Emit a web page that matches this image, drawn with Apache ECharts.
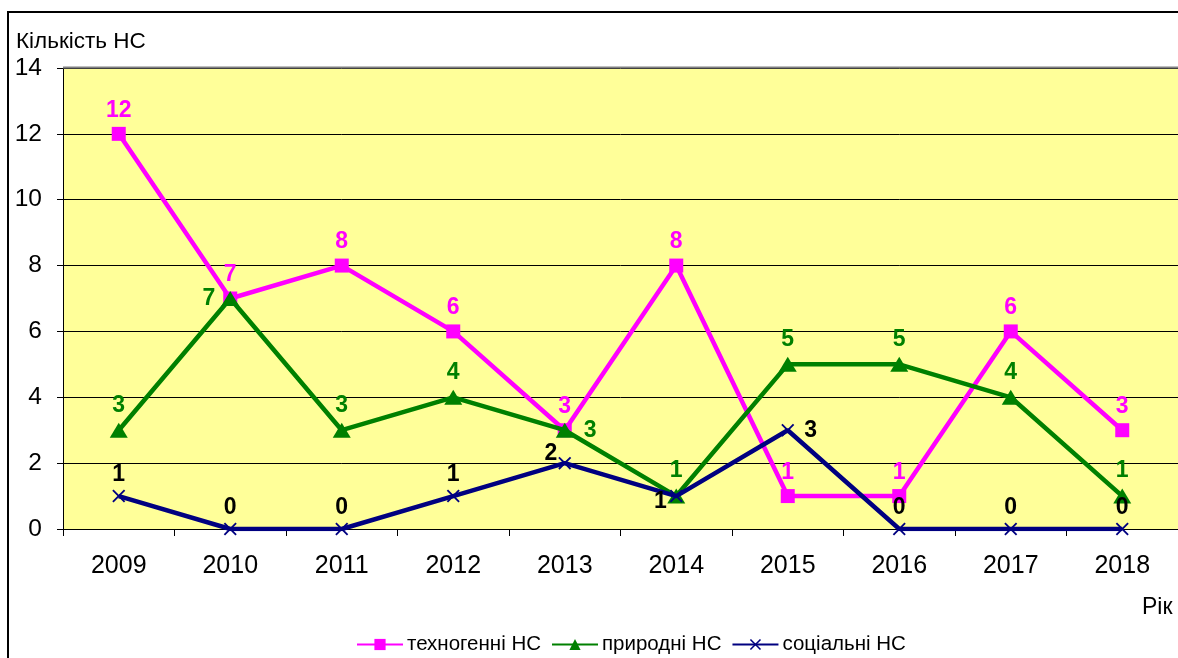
<!DOCTYPE html>
<html>
<head>
<meta charset="utf-8">
<script src="https://cdn.jsdelivr.net/npm/echarts@6/dist/echarts.min.js"></script>
<style>
html, body { margin: 0; padding: 0; background: #fff; }
#chartView { width: 1178px; height: 658px; }
</style>
</head>
<body>
<div id="chartView"></div>
<script>
var years = ['2009', '2010', '2011', '2012', '2013', '2014', '2015', '2016', '2017', '2018'];
var techno = [12, 7, 8, 6, 3, 8, 1, 1, 6, 3];
var natural = [3, 7, 3, 4, 3, 1, 5, 5, 4, 1];
var social = [1, 0, 0, 1, 2, 1, 3, 0, 0, 0];
var seriesNames = ['техногенні НС', 'природні НС', 'соціальні НС'];

// куди ставити підписи, якщо не зверху
var naturalLabelPos = { 1: 'left', 4: 'right' };
var socialLabelPos = { 4: 'topLeft', 5: 'bottomLeft', 6: 'right' };

var xPath = 'path://M0,1 L1,0 L5,4 L9,0 L10,1 L6,5 L10,9 L9,10 L5,6 L1,10 L0,9 L4,5 Z';
var font = '"Liberation Sans", Arial, sans-serif';

function withLabels(values, posMap) {
	return values.map(function (v, i) {
		var item = { value: v };
		var p = posMap[i];
		if (p == 'bottomLeft') {
			item.label = { position: 'left', offset: [0, 6] };
		} else if (p == 'topLeft') {
			item.label = { position: 'left', offset: [2, -9] };
		} else if (p == 'right') {
			item.label = { position: 'right', distance: 10 };
		} else if (p) {
			item.label = { position: p };
		}
		return item;
	});
}

var chartView = echarts.init(document.getElementById('chartView'));
var ops = {
	animation: false,
	textStyle: { fontFamily: font },
	grid: {
		left: 63,
		right: -7,
		top: 68,
		bottom: 129,
		backgroundColor: '#FFFF99',
		show: true,
		borderWidth: 0
	},
	legend: {
		data: seriesNames,
		bottom: -2,
		left: 351,
		itemWidth: 46,
		itemHeight: 14,
		itemGap: 10,
		textStyle: { fontSize: 20.5, color: '#000', fontFamily: font, padding: [0, 0, 0, -1] }
	},
	graphic: [{
		type: 'rect',
		shape: { x: 8, y: 12, width: 1300, height: 800 },
		style: { fill: null, stroke: '#000', lineWidth: 2 },
		z: 100
	}, {
		type: 'text',
		left: 16,
		top: 30,
		style: { text: 'Кількість НС', fontSize: 22.5, fill: '#000', fontFamily: font }
	}, {
		type: 'text',
		left: 1142,
		top: 596,
		style: { text: 'Рік', fontSize: 23, fill: '#000', fontFamily: font }
	}, {
		type: 'line',
		shape: { x1: 63, y1: 67.5, x2: 1178, y2: 67.5 },
		style: { stroke: '#808080', lineWidth: 2 },
		z: 5
	}],
	xAxis: [{
		type: 'category',
		boundaryGap: true,
		data: years,
		axisLine: { lineStyle: { color: '#000', width: 1 } },
		axisTick: { show: true, length: 7, inside: false, lineStyle: { color: '#000' } },
		axisLabel: { fontSize: 25, color: '#000', margin: 25, fontFamily: font },
		splitLine: { show: false }
	}],
	yAxis: [{
		type: 'value',
		min: 0,
		max: 14,
		interval: 2,
		axisLine: { show: true, lineStyle: { color: '#000', width: 1 } },
		axisTick: { show: true, length: 6, lineStyle: { color: '#000' } },
		axisLabel: { fontSize: 24.5, color: '#000', margin: 21, fontFamily: font },
		splitLine: { show: true, lineStyle: { color: '#000', width: 1 } }
	}],
	series: [{
		name: seriesNames[0],
		type: 'line',
		data: withLabels(techno, {}),
		symbol: 'rect',
		symbolSize: 14,
		color: '#FF00FF',
		lineStyle: { width: 4.5, color: '#FF00FF' },
		itemStyle: { color: '#FF00FF' },
		label: { show: true, position: 'top', distance: 5, fontSize: 23, fontWeight: 'bold', color: '#FF00FF', fontFamily: font },
		z: 2
	}, {
		name: seriesNames[1],
		type: 'line',
		data: withLabels(natural, naturalLabelPos),
		symbol: 'triangle',
		symbolSize: [18, 15],
		color: '#008000',
		lineStyle: { width: 4.5, color: '#008000' },
		itemStyle: { color: '#008000' },
		label: { show: true, position: 'top', distance: 6, fontSize: 23, fontWeight: 'bold', color: '#008000', fontFamily: font },
		z: 3
	}, {
		name: seriesNames[2],
		type: 'line',
		data: withLabels(social, socialLabelPos),
		symbol: xPath,
		symbolSize: 13,
		color: '#000080',
		lineStyle: { width: 4.5, color: '#000080' },
		itemStyle: { color: '#000080' },
		label: { show: true, position: 'top', distance: 3, fontSize: 23, fontWeight: 'bold', color: '#000', fontFamily: font },
		z: 4
	}]
};
chartView.setOption(ops);
</script>
</body>
</html>
